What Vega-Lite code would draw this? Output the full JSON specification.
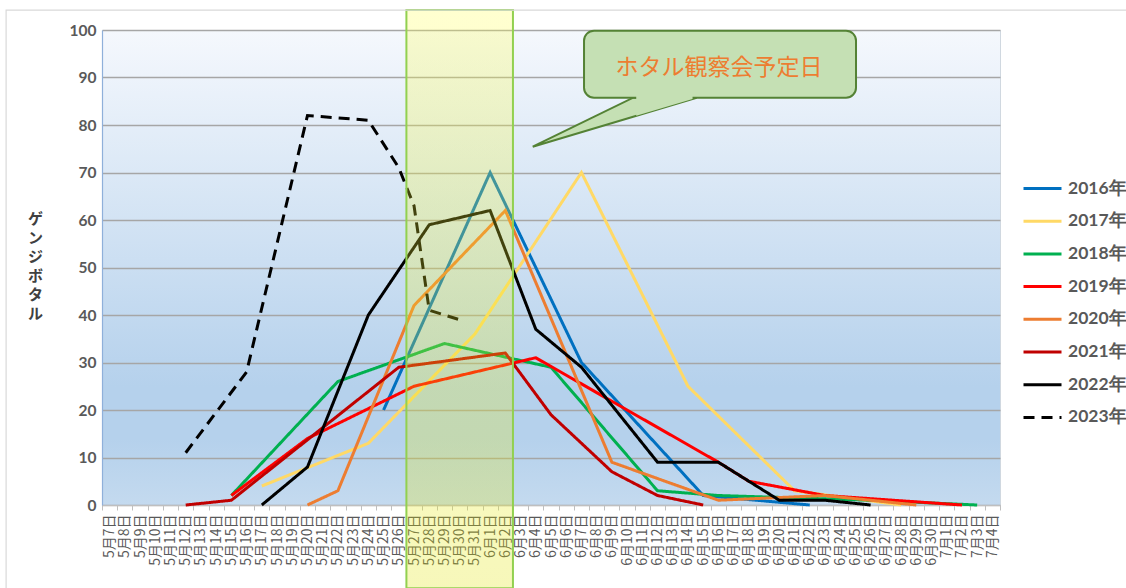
{
  "$schema": "https://vega.github.io/schema/vega-lite/v6.json",
  "autosize": {"type": "none"},
  "padding": {"left": 102, "top": 30, "right": 126, "bottom": 83},
  "width": 898,
  "height": 475,
  "background": "white",
  "view": {"fill": {"gradient": "linear", "x1": 0, "y1": 0, "x2": 0, "y2": 1, "stops": [{"offset": 0, "color": "#F5F8FD"}, {"offset": 0.75, "color": "#B5D1EC"}, {"offset": 0.86, "color": "#B5D1EC"}, {"offset": 1, "color": "#C4DAEF"}]}, "stroke": "#D0D8E0"},
  "config": {
    "font": "Lato",
    "axis": {"labelFont": "Lato"},
    "legend": {"labelFont": "Lato"}
  },
  "datasets": {
    "series": [
      {"d": "5月25日", "s": "2016年", "v": 20},
      {"d": "6月1日", "s": "2016年", "v": 70},
      {"d": "6月7日", "s": "2016年", "v": 30},
      {"d": "6月15日", "s": "2016年", "v": 2},
      {"d": "6月22日", "s": "2016年", "v": 0},
      {"d": "5月17日", "s": "2017年", "v": 4},
      {"d": "5月24日", "s": "2017年", "v": 13},
      {"d": "5月31日", "s": "2017年", "v": 36},
      {"d": "6月7日", "s": "2017年", "v": 70},
      {"d": "6月14日", "s": "2017年", "v": 25},
      {"d": "6月21日", "s": "2017年", "v": 3},
      {"d": "6月28日", "s": "2017年", "v": 0},
      {"d": "5月15日", "s": "2018年", "v": 2},
      {"d": "5月22日", "s": "2018年", "v": 26},
      {"d": "5月29日", "s": "2018年", "v": 34},
      {"d": "6月5日", "s": "2018年", "v": 29},
      {"d": "6月12日", "s": "2018年", "v": 3},
      {"d": "6月16日", "s": "2018年", "v": 2},
      {"d": "6月26日", "s": "2018年", "v": 1},
      {"d": "7月3日", "s": "2018年", "v": 0},
      {"d": "5月15日", "s": "2019年", "v": 2},
      {"d": "5月20日", "s": "2019年", "v": 14},
      {"d": "5月27日", "s": "2019年", "v": 25},
      {"d": "6月4日", "s": "2019年", "v": 31},
      {"d": "6月16日", "s": "2019年", "v": 9},
      {"d": "6月18日", "s": "2019年", "v": 5},
      {"d": "6月23日", "s": "2019年", "v": 2},
      {"d": "7月2日", "s": "2019年", "v": 0},
      {"d": "5月20日", "s": "2020年", "v": 0},
      {"d": "5月22日", "s": "2020年", "v": 3},
      {"d": "5月27日", "s": "2020年", "v": 42},
      {"d": "6月2日", "s": "2020年", "v": 62},
      {"d": "6月9日", "s": "2020年", "v": 9},
      {"d": "6月16日", "s": "2020年", "v": 1},
      {"d": "6月23日", "s": "2020年", "v": 2},
      {"d": "6月29日", "s": "2020年", "v": 0},
      {"d": "5月12日", "s": "2021年", "v": 0},
      {"d": "5月15日", "s": "2021年", "v": 1},
      {"d": "5月26日", "s": "2021年", "v": 29},
      {"d": "6月2日", "s": "2021年", "v": 32},
      {"d": "6月5日", "s": "2021年", "v": 19},
      {"d": "6月9日", "s": "2021年", "v": 7},
      {"d": "6月12日", "s": "2021年", "v": 2},
      {"d": "6月15日", "s": "2021年", "v": 0},
      {"d": "5月17日", "s": "2022年", "v": 0},
      {"d": "5月20日", "s": "2022年", "v": 8},
      {"d": "5月24日", "s": "2022年", "v": 40},
      {"d": "5月28日", "s": "2022年", "v": 59},
      {"d": "6月1日", "s": "2022年", "v": 62},
      {"d": "6月4日", "s": "2022年", "v": 37},
      {"d": "6月7日", "s": "2022年", "v": 29},
      {"d": "6月12日", "s": "2022年", "v": 9},
      {"d": "6月16日", "s": "2022年", "v": 9},
      {"d": "6月20日", "s": "2022年", "v": 1},
      {"d": "6月23日", "s": "2022年", "v": 1},
      {"d": "6月26日", "s": "2022年", "v": 0},
      {"d": "5月12日", "s": "2023年", "v": 11},
      {"d": "5月16日", "s": "2023年", "v": 28},
      {"d": "5月20日", "s": "2023年", "v": 82},
      {"d": "5月24日", "s": "2023年", "v": 81},
      {"d": "5月26日", "s": "2023年", "v": 71},
      {"d": "5月27日", "s": "2023年", "v": 63},
      {"d": "5月28日", "s": "2023年", "v": 41},
      {"d": "5月30日", "s": "2023年", "v": 39}
    ],
    "band": [{"u0": 20, "u1": 27, "v0": 104.2, "v1": -17.5}],
    "frame": [{"u0": -6.3, "u1": 80, "v0": 104.2, "v1": -40}],
    "box": [{"u0": 31.67, "u1": 49.54, "v0": 99.85, "v1": 85.75}],
    "tri": [
      {"u": 28.3, "top": 75.43, "bot": 75.43},
      {"u": 34.9, "top": 85.75, "bot": 81.75},
      {"u": 39.07, "top": 85.75, "bot": 85.75}
    ],
    "cover": [
      {"u": 35.1, "top": 86.4, "bot": 81.95},
      {"u": 38.8, "top": 86.4, "bot": 85.49}
    ],
    "label": [{"u": 40.54, "v": 92.0, "t": "ホタル観察会予定日"}]
  },
  "layer": [
    {
      "data": {"name": "series"},
      "mark": {"type": "line", "strokeJoin": "miter", "strokeCap": "butt"},
      "encoding": {
        "x": {
          "field": "d", "type": "ordinal", "title": null,
          "scale": {"type": "band", "paddingInner": 0, "paddingOuter": 0, "domain": ["5月7日","5月8日","5月9日","5月10日","5月11日","5月12日","5月13日","5月14日","5月15日","5月16日","5月17日","5月18日","5月19日","5月20日","5月21日","5月22日","5月23日","5月24日","5月25日","5月26日","5月27日","5月28日","5月29日","5月30日","5月31日","6月1日","6月2日","6月3日","6月4日","6月5日","6月6日","6月7日","6月8日","6月9日","6月10日","6月11日","6月12日","6月13日","6月14日","6月15日","6月16日","6月17日","6月18日","6月19日","6月20日","6月21日","6月22日","6月23日","6月24日","6月25日","6月26日","6月27日","6月28日","6月29日","6月30日","7月1日","7月2日","7月3日","7月4日"]},
          "axis": {"labelAngle": 270, "labelFont": "Noto Sans CJK JP", "labelFontSize": 14, "labelColor": "#595959", "labelPadding": 4, "labelOverlap": false, "domainColor": "#BFBFBF", "domainWidth": 1.2, "tickColor": "#BFBFBF", "tickSize": 5, "tickBand": "extent", "grid": false}
        },
        "y": {
          "field": "v", "type": "quantitative",
          "scale": {"domain": [0, 100], "nice": false, "zero": true},
          "axis": {"values": [0,10,20,30,40,50,60,70,80,90,100], "grid": true, "gridColor": "#A6A6A6", "gridWidth": 1.3, "ticks": false, "domainColor": "#8FB0DA", "domainWidth": 1.2, "labelFont": "Lato", "labelFontWeight": "bold", "labelFontSize": 15.5, "labelColor": "#595959", "labelPadding": 6, "title": ["ゲ","ン","ジ","ボ","タ","ル"], "titleAngle": 0, "titleFont": "Noto Sans CJK JP", "titleFontSize": 15, "titleFontWeight": "bold", "titleColor": "#404040", "titleLineHeight": 19, "titleX": -67, "titleY": 181, "titleAlign": "center", "titleBaseline": "top"}
        },
        "color": {
          "field": "s", "type": "nominal", "title": null,
          "scale": {"domain": ["2016年","2017年","2018年","2019年","2020年","2021年","2022年","2023年"], "range": ["#0070C0","#FFD966","#00B050","#FF0000","#ED7D31","#C00000","#000000","#000000"]},
          "legend": {"orient": "none", "legendX": 920, "legendY": 138, "symbolType": "stroke", "symbolSize": 1444, "labelFont": "Lato", "labelFontWeight": "bold", "labelFontSize": 17.5, "labelColor": "#595959", "labelOffset": 5, "rowPadding": 3.7}
        },
        "strokeDash": {
          "field": "s", "type": "nominal", "title": null,
          "scale": {"domain": ["2016年","2017年","2018年","2019年","2020年","2021年","2022年","2023年"], "range": [[1,0],[1,0],[1,0],[1,0],[1,0],[1,0],[1,0],[11,7]]}
        },
        "strokeWidth": {
          "field": "s", "type": "nominal", "title": null,
          "scale": {"domain": ["2016年","2017年","2018年","2019年","2020年","2021年","2022年","2023年"], "range": [3,3,3,3,3,3,3,5]}
        }
      }
    },
    {
      "layer": [
        {
          "data": {"name": "band"},
          "mark": {"type": "rect", "fill": {"gradient": "linear", "x1": 0, "y1": 0, "x2": 0, "y2": 1, "stops": [{"offset": 0, "color": "#FFFF50"}, {"offset": 1, "color": "#E0E400"}]}, "fillOpacity": 0.27, "stroke": "#92D050", "strokeWidth": 2},
          "encoding": {
            "x": {"field": "u0", "type": "quantitative", "scale": {"domain": [0, 59], "nice": false, "zero": false}, "axis": null},
            "x2": {"field": "u1"},
            "y": {"field": "v0", "type": "quantitative", "scale": {"domain": [0, 100], "nice": false}, "axis": null},
            "y2": {"field": "v1"}
          }
        },
        {
          "data": {"name": "frame"},
          "mark": {"type": "rect", "filled": false, "stroke": "#D9D9D9", "strokeWidth": 1.2},
          "encoding": {
            "x": {"field": "u0", "type": "quantitative", "scale": {"domain": [0, 59], "nice": false, "zero": false}, "axis": null},
            "x2": {"field": "u1"},
            "y": {"field": "v0", "type": "quantitative", "scale": {"domain": [0, 100], "nice": false}, "axis": null},
            "y2": {"field": "v1"}
          }
        },
        {
          "data": {"name": "tri"},
          "mark": {"type": "area", "fill": "#C5E0B4", "stroke": "#548235", "strokeWidth": 2, "fillOpacity": 1},
          "encoding": {
            "x": {"field": "u", "type": "quantitative", "scale": {"domain": [0, 59], "nice": false, "zero": false}, "axis": null},
            "y": {"field": "top", "type": "quantitative", "scale": {"domain": [0, 100], "nice": false}, "axis": null},
            "y2": {"field": "bot"}
          }
        },
        {
          "data": {"name": "box"},
          "mark": {"type": "rect", "fill": "#C5E0B4", "stroke": "#548235", "strokeWidth": 2, "cornerRadius": 10},
          "encoding": {
            "x": {"field": "u0", "type": "quantitative", "scale": {"domain": [0, 59], "nice": false, "zero": false}, "axis": null},
            "x2": {"field": "u1"},
            "y": {"field": "v0", "type": "quantitative", "scale": {"domain": [0, 100], "nice": false}, "axis": null},
            "y2": {"field": "v1"}
          }
        },
        {
          "data": {"name": "cover"},
          "mark": {"type": "area", "fill": "#C5E0B4", "strokeWidth": 0, "fillOpacity": 1},
          "encoding": {
            "x": {"field": "u", "type": "quantitative", "scale": {"domain": [0, 59], "nice": false, "zero": false}, "axis": null},
            "y": {"field": "top", "type": "quantitative", "scale": {"domain": [0, 100], "nice": false}, "axis": null},
            "y2": {"field": "bot"}
          }
        },
        {
          "data": {"name": "label"},
          "mark": {"type": "text", "font": "Noto Sans CJK JP", "fontSize": 23, "color": "#ED7D31", "align": "center", "baseline": "middle"},
          "encoding": {
            "x": {"field": "u", "type": "quantitative", "scale": {"domain": [0, 59], "nice": false, "zero": false}, "axis": null},
            "y": {"field": "v", "type": "quantitative", "scale": {"domain": [0, 100], "nice": false}, "axis": null},
            "text": {"field": "t"}
          }
        }
      ]
    }
  ],
  "resolve": {"scale": {"x": "independent", "y": "independent"}}
}
